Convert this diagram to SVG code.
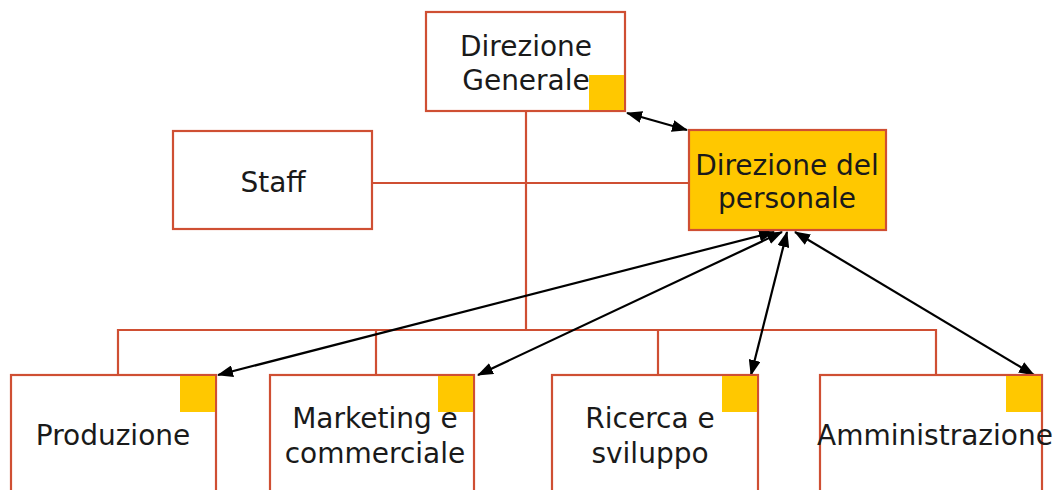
<svg xmlns="http://www.w3.org/2000/svg" width="1060" height="490" viewBox="0 0 1060 490">
<defs>
<style>
.box{fill:#ffffff;stroke:#cf4f33;stroke-width:2.2}
.hl{fill:#ffc800;stroke:#cf4f33;stroke-width:2.2}
.sq{fill:#ffc800}
.ln{fill:none;stroke:#cf4f33;stroke-width:2.2}
.ar{fill:none;stroke:#000;stroke-width:2.2;marker-start:url(#ah);marker-end:url(#ah)}
text{font-family:"DejaVu Sans","Liberation Sans",sans-serif;font-size:28px;fill:#1a1a1a;text-anchor:middle}
</style>
<marker id="ah" viewBox="0 0 16 12" refX="15" refY="6" markerWidth="16" markerHeight="12" markerUnits="userSpaceOnUse" orient="auto-start-reverse">
<path d="M0,0 L16,6 L0,12 z" fill="#000"/>
</marker>
</defs>
<g id="connectors">
<path class="ln" d="M526,111 V330"/>
<path class="ln" d="M372,183 H689"/>
<path class="ln" d="M118,375 V330 H936 V375"/>
<path class="ln" d="M376,330 V375"/>
<path class="ln" d="M658,330 V375"/>
<path class="ar" d="M627,113 L687,130"/>
<path class="ar" d="M774,232 L218,375"/>
<path class="ar" d="M782,232 L478,375"/>
<path class="ar" d="M787,232 L751,375"/>
<path class="ar" d="M795,232 L1034,375"/>
</g>
<g id="dg">
<rect class="box" x="426" y="12" width="199" height="99"/>
<rect class="sq" x="589" y="75" width="35" height="35"/>
<text x="526" y="56">Direzione</text>
<text x="526" y="90">Generale</text>
</g>
<g id="staff">
<rect class="box" x="173" y="131" width="199" height="98"/>
<text x="273" y="192">Staff</text>
</g>
<g id="dp">
<rect class="hl" x="689" y="130" width="197" height="100"/>
<text x="787" y="175">Direzione del</text>
<text x="787" y="208">personale</text>
</g>
<g id="produzione">
<rect class="box" x="11" y="375" width="205" height="130"/>
<rect class="sq" x="180" y="376" width="35" height="36"/>
<text x="113" y="445">Produzione</text>
</g>
<g id="marketing">
<rect class="box" x="270" y="375" width="204" height="130"/>
<rect class="sq" x="438" y="376" width="35" height="36"/>
<text x="375" y="428">Marketing e</text>
<text x="375" y="463">commerciale</text>
</g>
<g id="ricerca">
<rect class="box" x="552" y="375" width="206" height="130"/>
<rect class="sq" x="722" y="376" width="35" height="36"/>
<text x="650" y="428">Ricerca e</text>
<text x="650" y="463">sviluppo</text>
</g>
<g id="amministrazione">
<rect class="box" x="820" y="375" width="222" height="130"/>
<rect class="sq" x="1006" y="376" width="35" height="36"/>
<text x="935" y="445">Amministrazione</text>
</g>
</svg>
